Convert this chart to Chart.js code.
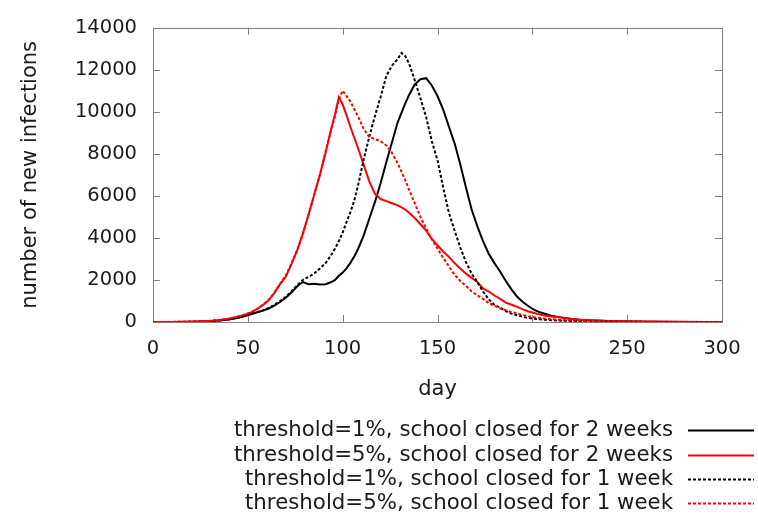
<!DOCTYPE html>
<html><head><meta charset="utf-8">
<script src="https://cdn.jsdelivr.net/npm/chart.js@4/dist/chart.umd.min.js"></script>
<style>html,body{margin:0;padding:0;background:#fff}</style>
</head><body>
<canvas id="c" width="758" height="520"></canvas>
<script>
// ---- data ----
const days = [0,5,10,15,20,25,30,35,40,43,46,49,52,55,58,61,64,67,70,73,76,79,82,85,88,91,94,96,98,100,102,104,106,108,111,114,117,120,123,126,129,131,133,135,138,141,144,147,150,153,156,159,162,165,168,171,174,177,180,183,186,189,192,195,198,201,204,207,210,215,220,225,230,240,250,260,270,280,290,300];

const t1_closed2w = [0,0,0,5,10,20,40,70,120,170,230,300,380,460,540,640,780,950,1150,1400,1700,1900,1800,1820,1780,1800,1900,2000,2200,2350,2550,2800,3100,3450,4100,4900,5700,6600,7600,8550,9500,9950,10400,10800,11300,11550,11600,11250,10750,10100,9300,8500,7500,6400,5350,4550,3850,3250,2800,2400,1950,1550,1200,950,750,580,460,380,300,220,160,110,80,45,25,15,10,5,5,0];

const t5_closed2w = [0,0,5,10,15,30,50,90,160,210,280,360,470,620,810,1030,1380,1800,2150,2750,3400,4200,5100,6050,7000,8050,9200,9900,10700,10350,9850,9300,8800,8300,7500,6700,6100,5850,5750,5650,5550,5450,5350,5200,4950,4650,4350,3950,3650,3350,3100,2800,2550,2300,2100,1900,1600,1450,1260,1100,920,820,720,600,500,430,350,300,260,210,150,110,80,50,30,20,15,10,5,5];

const t1_closed1w = [0,0,0,5,10,20,40,75,125,175,235,310,390,470,560,670,810,990,1200,1450,1750,2000,2150,2300,2550,2800,3200,3500,3850,4250,4750,5200,5750,6450,7700,8800,9800,10700,11700,12200,12500,12800,12650,12300,11500,10650,9750,8600,7700,6400,5200,4350,3550,2850,2300,1900,1450,1080,820,680,520,400,320,250,190,160,130,105,85,65,50,40,30,20,10,5,5,0,0,0];

const t5_closed1w = [0,0,5,10,20,30,55,95,160,220,290,370,480,630,820,1050,1400,1820,2200,2780,3420,4180,5100,6050,7000,8100,9150,9800,10600,11000,10750,10500,10150,9800,9200,8800,8700,8600,8400,8050,7550,7150,6750,6300,5650,5000,4450,3950,3500,3050,2650,2250,1950,1720,1450,1270,1100,900,780,650,560,470,410,330,270,230,190,160,130,100,75,55,40,25,15,10,5,5,0,0];

const seriesLabels = [
  'threshold=1%, school closed for 2 weeks',
  'threshold=5%, school closed for 2 weeks',
  'threshold=1%, school closed for 1 week',
  'threshold=5%, school closed for 1 week'
];
const xTicks = [0,50,100,150,200,250,300];
const yTicks = [0,2000,4000,6000,8000,10000,12000,14000];

// ---- chart ----
const FONT = "'DejaVu Sans', sans-serif";
Chart.defaults.font.family = FONT;
Chart.defaults.color = '#1a1a1a';

const toXY = arr => days.map((d,i)=>({x:d, y:arr[i]}));

const framePlugin = {
  id: 'frame',
  beforeDatasetsDraw(chart) {
    const {ctx, chartArea: a, scales: {x, y}} = chart;
    ctx.save();
    ctx.strokeStyle = '#808080';
    ctx.lineWidth = 1;
    ctx.strokeRect(Math.round(a.left)+0.5, Math.round(a.top)+0.5, Math.round(a.right-a.left), Math.round(a.bottom-a.top));
    const L = 7;
    ctx.beginPath();
    xTicks.forEach(v => {
      const px = Math.round(x.getPixelForValue(v)) + 0.5;
      ctx.moveTo(px, a.bottom); ctx.lineTo(px, a.bottom - L);
      ctx.moveTo(px, a.top); ctx.lineTo(px, a.top + L);
    });
    yTicks.forEach(v => {
      const py = Math.round(y.getPixelForValue(v)) + 0.5;
      ctx.moveTo(a.left, py); ctx.lineTo(a.left + L, py);
      ctx.moveTo(a.right, py); ctx.lineTo(a.right - L, py);
    });
    ctx.stroke();
    ctx.restore();
  }
};

const legendPlugin = {
  id: 'sideLegend',
  afterDraw(chart) {
    const {ctx} = chart;
    const rows = [430, 455, 479, 503];
    ctx.save();
    ctx.font = "21.3px " + FONT;
    ctx.fillStyle = '#1a1a1a';
    ctx.textAlign = 'right';
    ctx.textBaseline = 'middle';
    chart.data.datasets.forEach((ds, i) => {
      const yy = rows[i];
      ctx.fillText(ds.label, 673, yy);
      ctx.beginPath();
      ctx.strokeStyle = ds.borderColor;
      ctx.lineWidth = 2;
      ctx.setLineDash(ds.borderDash || []);
      ctx.moveTo(688, yy + 0.5);
      ctx.lineTo(754, yy + 0.5);
      ctx.stroke();
    });
    ctx.restore();
  }
};

new Chart(document.getElementById('c'), {
  type: 'line',
  data: {
    datasets: [
      {label: seriesLabels[0], data: toXY(t1_closed2w), borderColor: '#000000', borderDash: [], order: 4},
      {label: seriesLabels[1], data: toXY(t5_closed2w), borderColor: '#ff0000', borderDash: [], order: 3},
      {label: seriesLabels[2], data: toXY(t1_closed1w), borderColor: '#000000', borderDash: [3,2], order: 2},
      {label: seriesLabels[3], data: toXY(t5_closed1w), borderColor: '#ff0000', borderDash: [3,2], order: 1}
    ]
  },
  options: {
    responsive: false,
    animation: false,
    devicePixelRatio: 1,
    elements: {
      line: {borderWidth: 2, tension: 0, fill: false},
      point: {radius: 0, hoverRadius: 0}
    },
    layout: {padding: {left: 0, top: 19, right: 36, bottom: 118}},
    plugins: {legend: {display: false}, tooltip: {enabled: false}},
    scales: {
      x: {
        type: 'linear', min: 0, max: 300,
        afterBuildTicks: s => { s.ticks = xTicks.map(v => ({value: v})); },
        afterFit: s => { s.height = 80; },
        grid: {display: false, drawTicks: false},
        border: {display: false},
        ticks: {font: {size: 19.5}, padding: 15, maxRotation: 0, color: '#1a1a1a'},
        title: {display: true, text: 'day', font: {size: 21}, padding: {top: -2, bottom: 0}, color: '#1a1a1a'}
      },
      y: {
        type: 'linear', min: 0, max: 14000,
        afterBuildTicks: s => { s.ticks = yTicks.map(v => ({value: v})); },
        afterFit: s => { s.width = 153; },
        grid: {display: false, drawTicks: false},
        border: {display: false},
        ticks: {font: {size: 19.5}, padding: 16, color: '#1a1a1a', callback: v => String(v)},
        title: {display: true, text: 'number of new infections', font: {size: 21}, padding: {top: 18, bottom: 0}, color: '#1a1a1a'}
      }
    }
  },
  plugins: [framePlugin, legendPlugin]
});
</script>
</body></html>
